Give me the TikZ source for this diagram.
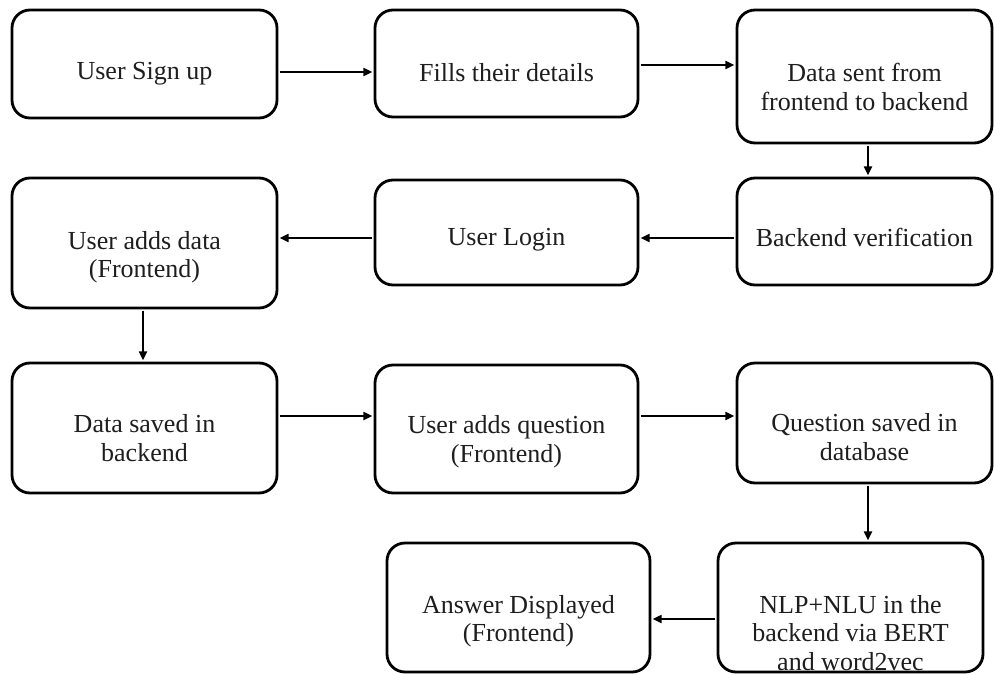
\documentclass[tikz,border=0pt]{standalone}
\usepackage{fontspec}
\setmainfont{Liberation Serif}
\usetikzlibrary{arrows.meta}
\definecolor{txtc}{HTML}{1E1E1E}
\begin{document}
\begin{tikzpicture}[x=1pt,y=-1pt,
  box/.style={draw=black, line width=2.8pt, rounded corners=18pt, inner sep=0pt, fill=white},
  txt/.style={align=center, text=txtc, inner sep=0pt, font=\fontsize{26}{28.5}\selectfont},
  arr/.style={draw=black, line width=1.9pt, -{Triangle[length=9pt,width=8pt]}, shorten >=1.2pt, shorten <=1.2pt}]
\useasboundingbox (0,0) rectangle (994,675);
\fill[white] (0,0) rectangle (994,675);
% boxes
\node[box, minimum width=265pt, minimum height=108pt] (A) at (144.5,64) {};
\node[box, minimum width=263pt, minimum height=107pt] (B) at (506.5,63.5) {};
\node[box, minimum width=255pt, minimum height=133pt] (C) at (864.5,76.5) {};
\node[box, minimum width=255pt, minimum height=107pt] (D) at (864.5,231.5) {};
\node[box, minimum width=263pt, minimum height=105pt] (E) at (506.5,232.5) {};
\node[box, minimum width=265pt, minimum height=130pt] (F) at (144.5,243) {};
\node[box, minimum width=265pt, minimum height=130pt] (G) at (144.5,428) {};
\node[box, minimum width=263pt, minimum height=128pt] (H) at (506.5,429) {};
\node[box, minimum width=255pt, minimum height=120pt] (I) at (864.5,423) {};
\node[box, minimum width=265pt, minimum height=129pt] (J) at (850.5,607.5) {};
\node[box, minimum width=263pt, minimum height=129pt] (K) at (518.5,607.5) {};
% texts
\node[txt] (tA) at (144.5,74) {User Sign up};
\node[txt] (tB) at (506.5,73) {Fills their details};
\node[txt] (tC) at (864.5,87) {Data sent from\\frontend to backend};
\node[txt] (tD) at (864.5,237) {Backend verification};
\node[txt] (tE) at (506.5,240) {User Login};
\node[txt] (tF) at (144.5,257) {User adds data\\(Frontend)};
\node[txt] (tG) at (144.5,438) {Data saved in\\backend};
\node[txt] (tH) at (506.5,441.5) {User adds question\\(Frontend)};
\node[txt] (tI) at (864.5,437) {Question saved in\\database};
\node[txt] (tJ) at (850.5,633) {NLP+NLU in the\\backend via BERT\\and word2vec};
\node[txt] (tK) at (518.5,621) {Answer Displayed\\(Frontend)};
% connectors
\draw[arr] ([yshift=-8pt]A.east) -- ([yshift=-8pt]A.east -| B.west);
\draw[arr] ([yshift=-1.5pt]B.east) -- ([yshift=-1.5pt]B.east -| C.west);
\draw[arr] ([xshift=3.5pt]C.south) -- ([xshift=3.5pt]C.south |- D.north);
\draw[arr] ([yshift=-6.5pt]D.west) -- ([yshift=-6.5pt]D.west -| E.east);
\draw[arr] ([yshift=-5.5pt]E.west) -- ([yshift=-5.5pt]E.west -| F.east);
\draw[arr] ([xshift=-1.5pt]F.south) -- ([xshift=-1.5pt]F.south |- G.north);
\draw[arr] ([yshift=12pt]G.east) -- ([yshift=12pt]G.east -| H.west);
\draw[arr] ([yshift=13pt]H.east) -- ([yshift=13pt]H.east -| I.west);
\draw[arr] ([xshift=3.5pt]I.south) -- ([xshift=3.5pt]I.south |- J.north);
\draw[arr] ([yshift=-11.5pt]J.west) -- ([yshift=-11.5pt]J.west -| K.east);
\end{tikzpicture}
\end{document}
